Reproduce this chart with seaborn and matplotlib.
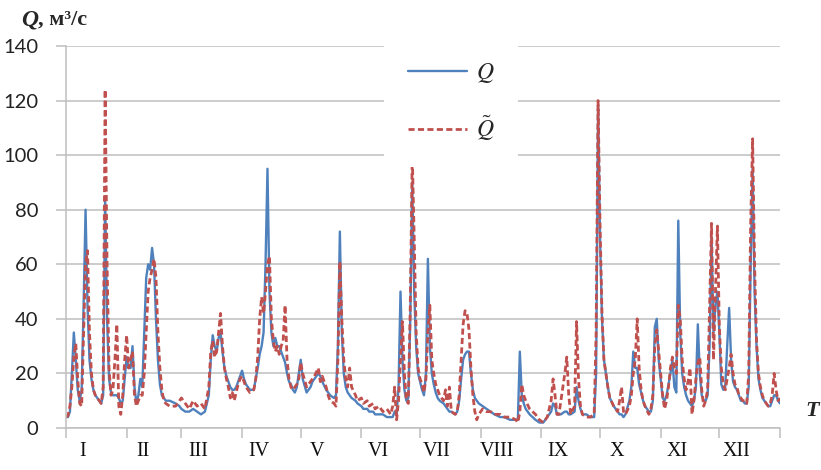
import matplotlib
matplotlib.use("Agg")
import matplotlib.pyplot as plt
import pandas as pd
import seaborn as sns

# ---- data ----
DAY = [0, 1, 2, 3, 4, 5, 6, 7, 8, 9, 10, 11, 12, 13, 14, 15, 16, 17, 18, 19,
       20, 21, 22, 23, 24, 25, 26, 27, 28, 29, 30, 31, 32, 33, 34, 35, 36, 37, 38, 39,
       40, 41, 42, 43, 44, 45, 46, 47, 48, 49, 50, 51, 53, 56, 58, 59, 61, 63, 65, 67,
       69, 71, 73, 74, 75, 76, 77, 78, 79, 80, 81, 82, 83, 84, 85, 86, 87, 88, 89, 90,
       91, 92, 94, 96, 97, 98, 99, 100, 101, 102, 103, 104, 105, 106, 107, 108, 109, 110, 111, 112,
       113, 114, 115, 116, 117, 118, 119, 120, 121, 123, 125, 126, 127, 129, 130, 131, 133, 134, 135, 137,
       138, 139, 140, 141, 142, 143, 144, 145, 146, 148, 149, 151, 152, 154, 155, 157, 158, 160, 162, 164,
       166, 167, 168, 169, 170, 171, 172, 173, 174, 175, 176, 177, 178, 179, 180, 181, 182, 183, 184, 185,
       186, 187, 188, 189, 190, 191, 193, 194, 195, 196, 197, 199, 200, 201, 202, 203, 204, 205, 206, 207,
       208, 209, 210, 211, 213, 215, 217, 219, 222, 224, 227, 230, 231, 232, 233, 234, 235, 237, 240, 242,
       244, 246, 248, 249, 250, 251, 252, 253, 255, 256, 257, 258, 260, 261, 262, 263, 264, 266, 268, 270,
       271, 272, 273, 274, 275, 276, 277, 278, 280, 282, 283, 284, 285, 286, 288, 289, 290, 291, 292, 293,
       294, 295, 296, 298, 299, 300, 301, 302, 303, 304, 305, 306, 307, 308, 309, 310, 311, 312, 313, 314,
       315, 316, 317, 318, 319, 320, 321, 322, 323, 324, 325, 326, 327, 328, 329, 330, 331, 332, 333, 334,
       335, 336, 337, 338, 339, 340, 341, 342, 343, 344, 345, 346, 347, 348, 349, 350, 351, 352, 353, 354,
       355, 356, 357, 358, 359, 360, 361, 362, 363, 364, 365]

Q_OBS = [4, 4, 6, 20, 35, 25, 14, 10, 14, 45, 80, 45, 25, 18, 14, 12, 11, 10, 9, 12,
         85, 40, 18, 13, 12, 12, 12, 11, 9, 10, 18, 26, 22, 22, 30, 15, 9, 12, 18, 15,
         35, 55, 60, 58, 66, 60, 40, 25, 16, 12, 11, 10, 10, 9, 8, 7, 6, 6, 7, 6,
         5, 6, 12, 25, 34, 30, 28, 33, 35, 28, 22, 19, 17, 15, 14, 14, 15, 17, 19, 21,
         18, 16, 14, 14, 18, 22, 27, 30, 35, 60, 95, 50, 35, 30, 33, 30, 30, 28, 26, 24,
         20, 17, 16, 14, 13, 15, 20, 25, 18, 13, 15, 17, 18, 20, 19, 17, 14, 13, 12, 11,
         12, 30, 72, 35, 20, 15, 13, 12, 11, 10, 9, 8, 7, 7, 6, 6, 5, 5, 5, 4,
         4, 4, 6, 5, 15, 50, 25, 14, 10, 11, 40, 90, 50, 30, 20, 17, 14, 12, 20, 62,
         30, 20, 16, 13, 11, 10, 9, 8, 7, 6, 6, 5, 6, 10, 18, 25, 27, 28, 28, 20,
         14, 11, 10, 9, 8, 7, 6, 5, 4, 4, 3, 3, 3, 28, 12, 9, 7, 5, 3, 2,
         2, 4, 6, 9, 8, 5, 5, 5, 6, 6, 5, 5, 6, 15, 10, 7, 5, 5, 4, 4,
         20, 118, 70, 40, 25, 20, 15, 11, 8, 6, 5, 5, 4, 5, 10, 15, 28, 22, 22, 16,
         13, 10, 8, 6, 6, 10, 37, 40, 25, 18, 11, 10, 12, 16, 20, 25, 15, 13, 76, 35,
         20, 15, 12, 10, 9, 8, 10, 15, 38, 20, 12, 10, 10, 12, 30, 70, 35, 45, 50, 35,
         16, 14, 15, 30, 44, 25, 17, 15, 14, 12, 10, 10, 9, 9, 15, 60, 95, 50, 30, 18,
         14, 11, 10, 9, 8, 8, 10, 12, 12, 10, 9]

Q_MOD = [4, 4.5, 8, 15, 26, 31, 18, 9, 8, 35, 60, 65, 35, 20, 14, 12, 11, 10, 9, 15,
         124, 60, 22, 12, 14, 25, 38, 8, 5, 12, 25, 34, 22, 25, 28, 12, 8, 10, 12, 12,
         20, 35, 50, 55, 58, 62, 55, 35, 22, 14, 10, 9, 8, 8, 10, 11, 9, 7, 10, 8,
         9, 7, 15, 28, 32, 26, 28, 35, 42, 30, 22, 18, 15, 11, 13, 10, 13, 16, 18, 19,
         17, 15, 13, 14, 18, 26, 40, 48, 42, 50, 60, 63, 40, 32, 28, 30, 27, 30, 32, 45,
         25, 18, 15, 14, 15, 16, 18, 24, 20, 15, 17, 18, 19, 22, 17, 19, 15, 12, 10, 9,
         8, 25, 61, 40, 25, 18, 15, 22, 15, 12, 10, 11, 9, 10, 8, 9, 7, 8, 6, 7,
         5, 8, 15, 3, 10, 25, 39, 20, 10, 9, 45, 100, 70, 35, 22, 18, 16, 13, 18, 35,
         45, 25, 20, 16, 14, 12, 10, 14, 8, 15, 6, 5, 6, 12, 25, 38, 43, 42, 36, 22,
         12, 6, 3, 5, 7, 6, 6, 5, 5, 4, 4, 3, 2, 6, 16, 12, 10, 7, 5, 3,
         2, 4, 10, 18, 12, 5, 5, 10, 20, 26, 12, 5, 8, 39, 18, 8, 5, 4, 4, 5,
         35, 120, 75, 42, 25, 20, 15, 11, 8, 6, 10, 15, 6, 5, 8, 12, 20, 25, 40, 22,
         14, 10, 8, 5, 7, 12, 30, 36, 28, 20, 12, 7, 10, 15, 22, 26, 22, 20, 45, 40,
         25, 18, 14, 17, 22, 5, 10, 18, 24, 26, 14, 8, 10, 14, 45, 75, 25, 50, 74, 37,
         22, 16, 14, 18, 22, 27, 20, 16, 15, 12, 11, 10, 10, 9, 20, 75, 106, 60, 32, 20,
         15, 12, 10, 9, 8, 9, 12, 20, 14, 10, 11]

MONTH_STARTS = [0, 31, 59, 90, 120, 151, 181, 212, 243, 273, 304, 334, 365]
MONTH_LABELS = ["I", "II", "III", "IV", "V", "VI", "VII", "VIII", "IX", "X", "XI", "XII"]
Y_TICKS = [0, 20, 40, 60, 80, 100, 120, 140]

# ---- style ----
sns.set_theme(style="white")
plt.rcParams["font.family"] = ["Lato", "DejaVu Sans"]
plt.rcParams["mathtext.fontset"] = "stix"

W, H = 821, 470
fig = plt.figure(figsize=(W / 100, H / 100), dpi=100)
ax = fig.add_axes([66 / W, 1 - 428 / H, 714 / W, 382 / H])

df = pd.DataFrame({"day": DAY, "Q": Q_OBS, "Qm": Q_MOD})

sns.lineplot(data=df, x="day", y="Q", ax=ax, color="#4F81BD", linewidth=1.7,
             label="$Q$")
sns.lineplot(data=df, x="day", y="Qm", ax=ax, color="#C0504D", linewidth=2.0,
             label=r"$\tilde{Q}$")
ax.lines[-1].set_dashes([2.2, 1.2])

ax.set_xlim(0, 365)
ax.set_ylim(0, 140)
ax.set_xlabel("")
ax.set_ylabel("")

grid_c = "#BFBFBF"
ax.set_yticks(Y_TICKS)
ax.set_yticklabels([str(v) for v in Y_TICKS], fontsize=14.5, color="#222222")
ax.yaxis.grid(True, color=grid_c, linewidth=1.1)
ax.set_axisbelow(True)

ax.set_xticks(MONTH_STARTS)
ax.set_xticklabels([])
label_pos = [s + 8.5 for s in MONTH_STARTS[:-1]]
ax.set_xticks(label_pos, minor=True)
ax.set_xticklabels(MONTH_LABELS, minor=True, fontsize=14.5,
                   family=["Liberation Serif", "DejaVu Serif"], color="#111111")
ax.tick_params(axis="x", which="major", direction="out", length=7, width=1.1,
               color=grid_c, bottom=True)
ax.tick_params(axis="x", which="minor", length=0, pad=10, bottom=True)
ax.tick_params(axis="y", which="major", direction="out", length=7, width=1.1,
               color=grid_c, left=True, pad=13)

for s in ["top", "right"]:
    ax.spines[s].set_visible(False)
for s in ["left", "bottom"]:
    ax.spines[s].set_color(grid_c)
    ax.spines[s].set_linewidth(1.1)

leg = ax.legend(loc="center", bbox_to_anchor=((451 - 66) / 714, (428 - 102) / 382),
                frameon=True, facecolor="white", edgecolor="none", framealpha=1,
                fontsize=17, handlelength=2.5, labelspacing=1.2, handletextpad=0.4,
                borderpad=1.0)

# axis titles
serif = ["Liberation Serif", "DejaVu Serif"]
fig.text(21 / W, 1 - 20 / H, "Q", fontsize=17, fontweight="bold", fontstyle="italic",
         family=serif, va="center", ha="left")
fig.text(38 / W, 1 - 20 / H, ", м³/с", fontsize=16, fontweight="bold",
         family=serif, va="center", ha="left")
fig.text(805 / W, 1 - 411 / H, "T", fontsize=16, fontweight="bold", fontstyle="italic",
         family=serif, va="center", ha="left")

fig.savefig("out.png", dpi=100, facecolor="white")
